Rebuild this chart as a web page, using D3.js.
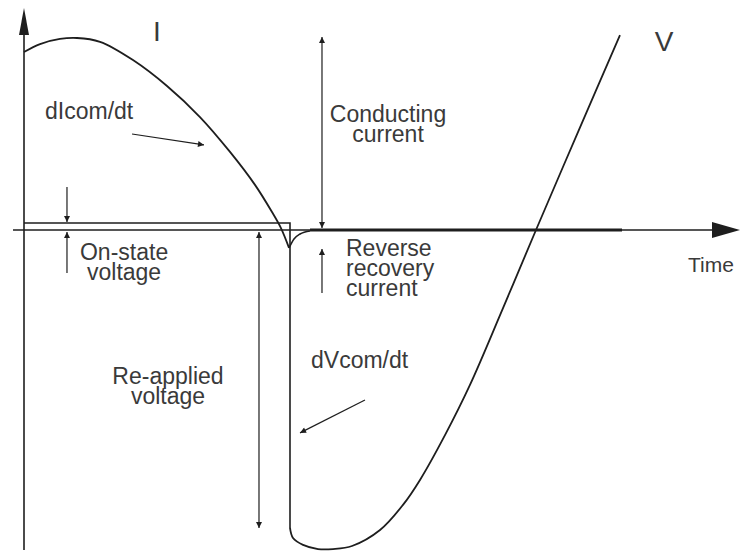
<!DOCTYPE html>
<html>
<head>
<meta charset="utf-8">
<script src="https://cdn.jsdelivr.net/npm/d3@7/dist/d3.min.js"></script>
<style>
  html, body { margin: 0; padding: 0; background: #fff; }
  svg { display: block; }
  text { font-family: "Liberation Sans", Arial, sans-serif; fill: #3a3a3a; }
</style>
</head>
<body>
<script>
// Thyristor/triac commutation waveforms: current I and voltage V versus time (per-unit).

// Current I: conduction half-wave ending in a reverse-recovery spike
const currentTime  = [0, 0.229, 0.514, 0.757, 1.086, 1.557, 2.043, 2.514, 2.943, 3.3, 3.543, 3.671, 3.786];
const currentValue = [0.556, 0.581, 0.597, 0.600, 0.588, 0.531, 0.450, 0.353, 0.244, 0.141, 0.056, 0.006, -0.056];

// Recovery of the current back to zero after the spike
const recoveryTime  = [3.786, 3.857, 3.943, 4.086];
const recoveryValue = [-0.056, -0.028, -0.0125, -0.003];

// Blocked (zero) current after turn-off
const offTime  = [4.086, 8.543];
const offValue = [0, 0];

// Voltage V: on-state drop, then sudden re-applied voltage
const onStateTime  = [0, 3.8, 3.8];
const onStateValue = [0.022, 0.022, -0.931];

// Re-applied voltage swinging back through zero
const reappliedTime  = [3.8, 3.843, 3.986, 4.2, 4.414, 4.686, 5.086, 5.414, 5.657, 6.014, 6.371, 6.843, 7.314, 7.914, 8.514];
const reappliedValue = [-0.931, -0.9625, -0.984, -0.997, -0.997, -0.9875, -0.9375, -0.859, -0.781, -0.641, -0.484, -0.244, 0, 0.306, 0.609];

// Dimension arrows: [t1, v1, t2, v2, arrowAtStart, arrowAtEnd]
const dimensionArrows = [
  [0.614, 0.134, 0.614, 0.025, false, true],    // on-state voltage (upper)
  [0.614, -0.134, 0.614, -0.006, false, true],  // on-state voltage (lower)
  [3.357, -0.006, 3.357, -0.931, true, true],   // re-applied voltage
  [4.257, 0.603, 4.257, 0.006, true, true],     // conducting current
  [4.257, -0.197, 4.257, -0.059, false, true],  // reverse recovery current
  [1.543, 0.300, 2.571, 0.266, false, true],    // dIcom/dt pointer
  [4.871, -0.531, 3.943, -0.634, false, true]   // dVcom/dt pointer
];

// Text labels (one entry per label, wrapped lines inside)
const labelLines  = [["I"], ["V"], ["dIcom/dt"], ["Conducting", "current"], ["On-state", "voltage"],
                     ["Re-applied", "voltage"], ["Reverse", "recovery", "current"], ["Time"], ["dVcom/dt"]];
const labelTime   = [1.9, 9.143, 0.3, 5.2, 1.43, 2.057, 4.6, 9.486, 4.1];
const labelValue  = [0.591, 0.559, 0.347, 0.3375, -0.094, -0.481, -0.081, -0.131, -0.431];
const labelAnchor = ["middle", "middle", "start", "middle", "middle", "middle", "start", "start", "start"];
const labelSize   = [28, 28, 23, 23, 23, 23, 23, 21, 23];
const lineStep = 20;

// Axis extents in data units
const axisTimeStart = -0.157, axisTimeEnd = 10.229;
const axisValueBottom = -1.0, axisValueTop = 0.694;

const width = 741, height = 555;
const x = d3.scaleLinear().domain([0, 10]).range([24, 724]);
const y = d3.scaleLinear().domain([-1, 0.6]).range([550, 38]);

const svg = d3.select("body").append("svg")
  .attr("width", width).attr("height", height);

const ink = "#1e1e1e";

const defs = svg.append("defs");
defs.append("marker")
  .attr("id", "tip").attr("viewBox", "0 0 10 10")
  .attr("refX", 10).attr("refY", 5)
  .attr("markerWidth", 9).attr("markerHeight", 6)
  .attr("markerUnits", "userSpaceOnUse")
  .attr("orient", "auto-start-reverse")
  .append("path").attr("d", "M0,0 L10,5 L0,10 Z").attr("fill", ink);

const zip = (ts, vs) => ts.map((t, i) => [t, vs[i]]);
const line = d3.line().x(d => x(d[0])).y(d => y(d[1]));

// Axes with large filled arrowheads
const axes = svg.append("g").attr("stroke", ink).attr("stroke-width", 1.6);
axes.append("line")
  .attr("x1", x(axisTimeStart)).attr("y1", y(0))
  .attr("x2", x(axisTimeEnd) - 20).attr("y2", y(0));
axes.append("line")
  .attr("x1", x(0)).attr("y1", y(axisValueBottom))
  .attr("x2", x(0)).attr("y2", y(axisValueTop) + 20);
svg.append("path")
  .attr("fill", ink)
  .attr("d", `M${x(axisTimeEnd)},${y(0)} L${x(axisTimeEnd) - 28},${y(0) - 8} L${x(axisTimeEnd) - 28},${y(0) + 8} Z`);
svg.append("path")
  .attr("fill", ink)
  .attr("d", `M${x(0)},${y(axisValueTop)} L${x(0) - 5},${y(axisValueTop) + 27} L${x(0) + 5},${y(axisValueTop) + 27} Z`);

// Current waveform
svg.append("path")
  .attr("d", line.curve(d3.curveCatmullRom)(zip(currentTime, currentValue)))
  .attr("fill", "none").attr("stroke", ink).attr("stroke-width", 1.8);
svg.append("path")
  .attr("d", line.curve(d3.curveMonotoneX)(zip(recoveryTime, recoveryValue)))
  .attr("fill", "none").attr("stroke", ink).attr("stroke-width", 1.6);
svg.append("path")
  .attr("d", line.curve(d3.curveLinear)(zip(offTime, offValue)))
  .attr("fill", "none").attr("stroke", ink).attr("stroke-width", 3.2);

// Voltage waveform
svg.append("path")
  .attr("d", line.curve(d3.curveLinear)(zip(onStateTime, onStateValue)))
  .attr("fill", "none").attr("stroke", ink).attr("stroke-width", 1.6);
svg.append("path")
  .attr("d", line.curve(d3.curveCatmullRom)(zip(reappliedTime, reappliedValue)))
  .attr("fill", "none").attr("stroke", ink).attr("stroke-width", 1.8);

// Dimension and pointer arrows
svg.append("g").selectAll("line").data(dimensionArrows).join("line")
  .attr("x1", d => x(d[0])).attr("y1", d => y(d[1]))
  .attr("x2", d => x(d[2])).attr("y2", d => y(d[3]))
  .attr("stroke", ink).attr("stroke-width", 1.2)
  .attr("marker-start", d => d[4] ? "url(#tip)" : null)
  .attr("marker-end", d => d[5] ? "url(#tip)" : null);

// Labels, multi-line ones as tspans of a single text
svg.append("g").selectAll("text").data(labelLines).join("text")
  .attr("x", (d, i) => x(labelTime[i]))
  .attr("y", (d, i) => y(labelValue[i]))
  .attr("text-anchor", (d, i) => labelAnchor[i])
  .attr("font-size", (d, i) => labelSize[i])
  .each(function (lines, i) {
    const el = d3.select(this);
    lines.forEach((s, k) => {
      el.append("tspan")
        .attr("x", x(labelTime[i]))
        .attr("dy", k === 0 ? 0 : lineStep)
        .text(s);
    });
  });
</script>
</body>
</html>
